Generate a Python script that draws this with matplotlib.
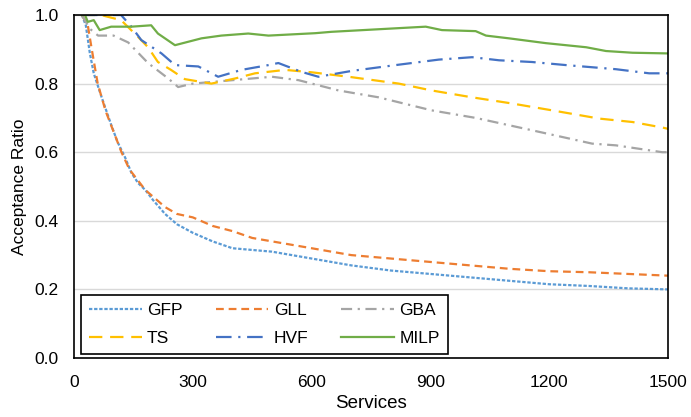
import numpy as np
import matplotlib.pyplot as plt

plt.rcParams['font.family'] = ['Liberation Sans', 'DejaVu Sans']

gfp_x = [20, 30, 40, 50, 70, 94, 110, 129, 145, 162, 180, 200, 230, 260, 300, 350, 400, 450, 500, 550, 600, 700, 800, 900, 1000, 1100, 1200, 1300, 1400, 1500]
gfp_y = [1.0, 0.97, 0.89, 0.83, 0.76, 0.68, 0.63, 0.585, 0.54, 0.51, 0.49, 0.46, 0.42, 0.39, 0.365, 0.34, 0.32, 0.315, 0.31, 0.30, 0.29, 0.27, 0.255, 0.245, 0.235, 0.225, 0.215, 0.21, 0.203, 0.20]

gll_x = [20, 35, 45, 60, 80, 100, 120, 140, 160, 180, 200, 230, 260, 300, 350, 400, 450, 500, 550, 600, 700, 800, 900, 1000, 1100, 1200, 1300, 1400, 1500]
gll_y = [1.0, 0.97, 0.90, 0.80, 0.72, 0.66, 0.60, 0.55, 0.52, 0.49, 0.47, 0.44, 0.42, 0.41, 0.385, 0.37, 0.35, 0.34, 0.33, 0.32, 0.30, 0.29, 0.28, 0.27, 0.26, 0.253, 0.25, 0.245, 0.24]

gba_x = [20, 40, 61, 100, 137, 187, 238, 263, 300, 400, 500, 567, 668, 769, 903, 1014, 1156, 1308, 1368, 1485, 1500]
gba_y = [1.0, 0.96, 0.94, 0.94, 0.92, 0.86, 0.815, 0.79, 0.80, 0.81, 0.82, 0.81, 0.78, 0.76, 0.722, 0.70, 0.664, 0.625, 0.62, 0.60, 0.60]

ts_x = [20, 68, 119, 162, 187, 212, 245, 280, 347, 407, 457, 533, 600, 693, 820, 903, 1005, 1106, 1207, 1326, 1410, 1485, 1500]
ts_y = [1.0, 1.0, 0.985, 0.936, 0.906, 0.863, 0.84, 0.813, 0.80, 0.815, 0.83, 0.84, 0.833, 0.82, 0.80, 0.78, 0.76, 0.742, 0.722, 0.698, 0.688, 0.672, 0.668]

hvf_x = [20, 119, 145, 170, 221, 255, 314, 364, 423, 491, 516, 575, 617, 701, 812, 921, 1005, 1073, 1156, 1242, 1368, 1452, 1500]
hvf_y = [1.0, 1.0, 0.966, 0.927, 0.888, 0.854, 0.85, 0.82, 0.84, 0.854, 0.86, 0.834, 0.82, 0.837, 0.854, 0.87, 0.877, 0.868, 0.863, 0.854, 0.842, 0.83, 0.83]

milp_x = [20, 28, 35, 50, 65, 94, 145, 195, 212, 255, 322, 372, 440, 491, 609, 650, 888, 929, 1014, 1040, 1098, 1191, 1293, 1343, 1410, 1500]
milp_y = [1.0, 1.0, 0.98, 0.985, 0.956, 0.966, 0.966, 0.97, 0.946, 0.912, 0.932, 0.94, 0.946, 0.94, 0.947, 0.951, 0.966, 0.956, 0.953, 0.94, 0.932, 0.918, 0.906, 0.895, 0.89, 0.888]

fig = plt.figure(figsize=(6.91, 4.17), dpi=100)
ax = fig.add_axes([0.107, 0.1415, 0.860, 0.8225])

lw = 1.6
h_gfp, = ax.plot(gfp_x, gfp_y, color='#5B9BD5', lw=lw, linestyle=(0, (1.5, 0.8)), label='GFP')
h_gll, = ax.plot(gll_x, gll_y, color='#ED7D31', lw=lw, linestyle=(0, (3.5, 2.2)), label='GLL')
h_gba, = ax.plot(gba_x, gba_y, color='#A5A5A5', lw=lw, linestyle=(0, (5, 2.5, 1, 2.5)), label='GBA')
h_ts, = ax.plot(ts_x, ts_y, color='#FFC000', lw=lw, linestyle=(0, (6, 3.5)), label='TS')
h_hvf, = ax.plot(hvf_x, hvf_y, color='#4472C4', lw=lw, linestyle=(0, (7, 3, 1, 3)), label='HVF')
h_milp, = ax.plot(milp_x, milp_y, color='#70AD47', lw=lw, linestyle='-', label='MILP')

ax.set_xlim(0, 1500)
ax.set_ylim(0, 1.0)
ax.set_xticks(np.arange(0, 1501, 300))
ax.set_yticks(np.arange(0, 1.01, 0.2))
ax.set_yticklabels([f'{v:.1f}' for v in np.arange(0, 1.01, 0.2)])
ax.tick_params(length=0, labelsize=12.5)
ax.tick_params(axis='x', pad=12)
ax.tick_params(axis='y', pad=11)
ax.grid(axis='y', color='#D9D9D9', lw=1)
ax.set_axisbelow(True)
for s in ax.spines.values():
    s.set_color('black')
    s.set_linewidth(1.2)

ax.set_xlabel('Services', fontsize=13.5, labelpad=4)
ax.set_ylabel('Acceptance Ratio', fontsize=12.5, labelpad=5)

# row-major order like the original
handles = [h_gfp, h_ts, h_gll, h_hvf, h_gba, h_milp]
leg = ax.legend(handles=handles, labels=[h.get_label() for h in handles],
                ncol=3, loc='lower left', bbox_to_anchor=(0.012, 0.012), borderaxespad=0,
                fontsize=12.5, frameon=True, fancybox=False, edgecolor='black',
                handlelength=3.05, columnspacing=1.9, handletextpad=0.3,
                borderpad=0.45, labelspacing=0.75, framealpha=1)
leg.get_frame().set_linewidth(1.2)

plt.savefig('out.png', dpi=100)
plt.close()
